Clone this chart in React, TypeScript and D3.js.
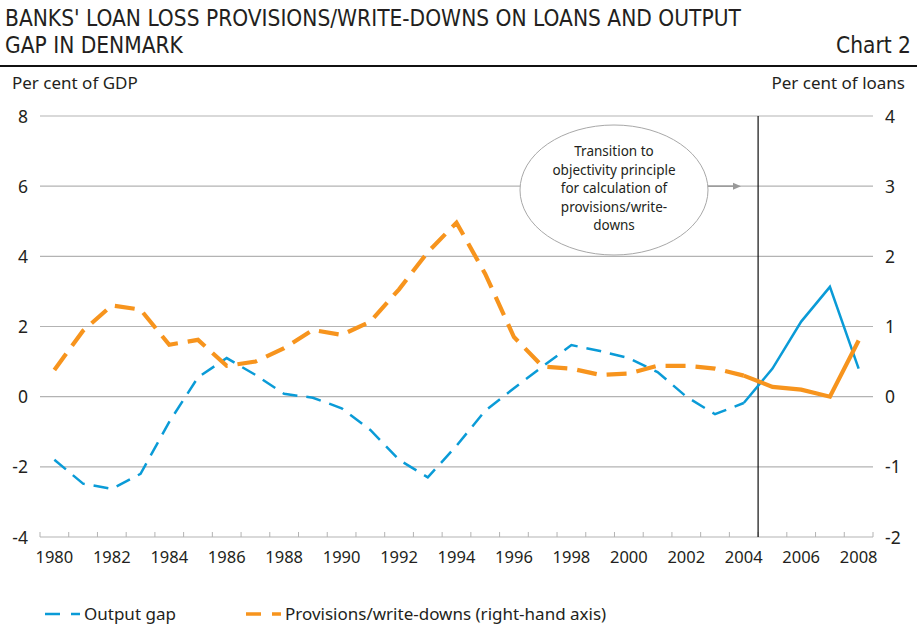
import { useEffect, useRef } from "react";
import * as d3 from "d3";

const years = d3.range(1980, 2009);
// left axis, per cent of GDP
const outputGap = [
  -1.8, -2.48, -2.63, -2.2, -0.72, 0.55, 1.1, 0.62, 0.08, -0.03, -0.33, -0.95, -1.8, -2.3,
  -1.4, -0.4, 0.24, 0.86, 1.47, 1.3, 1.1, 0.7, 0.0, -0.5, -0.18, 0.8, 2.14, 3.13, 0.8,
];
// right axis, per cent of loans
const provisions = [
  0.38, 0.94, 1.3, 1.24, 0.74, 0.81, 0.44, 0.5, 0.69, 0.95, 0.88, 1.07, 1.53, 2.06, 2.48,
  1.75, 0.85, 0.43, 0.4, 0.31, 0.33, 0.44, 0.44, 0.4, 0.3, 0.14, 0.1, 0.0, 0.8,
];
const leftTicks = [-4, -2, 0, 2, 4, 6, 8];
const rightTicks = [-2, -1, 0, 1, 2, 3, 4];
const yearLabels = years.filter((y) => y % 2 === 0);
const solidFrom = 2004; // solid lines from here on
const breakYear = 2004.5; // objectivity principle
const noteLines = ["Transition to", "objectivity principle", "for calculation of", "provisions/write-", "downs"];

const BLUE = "#0a9bd7";
const ORANGE = "#f7941d";
const GRID = "#b3b3b3";
const TXT = "#231f20";
const FONT = "'Noto Sans', 'Open Sans', sans-serif";

const Chart = () => {
  const ref = useRef<SVGSVGElement>(null);

  useEffect(() => {
    document.body.style.margin = "0";
    const svg = d3.select(ref.current);
    svg.selectAll("*").remove();

    const x = d3.scaleLinear().domain([1979.5, 2008.5]).range([40, 873]);
    const yL = d3.scaleLinear().domain([-4, 8]).range([537, 116]);
    const yR = d3.scaleLinear().domain([-2, 4]).range([537, 116]);

    // title
    const t = svg.append("g").style("font-family", "'Liberation Sans Narrow', 'DejaVu Sans Condensed', sans-serif").attr("fill", TXT);
    t.append("text").attr("x", 5).attr("y", 26).style("font-size", "22.5px").text("BANKS' LOAN LOSS PROVISIONS/WRITE-DOWNS ON LOANS AND OUTPUT");
    t.append("text").attr("x", 5).attr("y", 53).style("font-size", "22.5px").text("GAP IN DENMARK");
    t.append("text").attr("x", 911).attr("y", 53).attr("text-anchor", "end").style("font-size", "22.5px").text("Chart 2");
    svg.append("line").attr("x1", 0).attr("x2", 917).attr("y1", 66).attr("y2", 66).attr("stroke", "#111").attr("stroke-width", 2);

    const g = svg.append("g").style("font-family", FONT).attr("fill", TXT);
    g.append("text").attr("x", 12).attr("y", 89).style("font-size", "17px").text("Per cent of GDP");
    g.append("text").attr("x", 905).attr("y", 89).attr("text-anchor", "end").style("font-size", "17px").text("Per cent of loans");

    // grid
    g.selectAll(".grid")
      .data(leftTicks.filter((d) => d > -4))
      .enter()
      .append("line")
      .attr("x1", x.range()[0])
      .attr("x2", x.range()[1])
      .attr("y1", (d) => yL(d))
      .attr("y2", (d) => yL(d))
      .attr("stroke", GRID)
      .attr("stroke-width", 1.2);

    // y labels
    g.selectAll(".ly")
      .data(leftTicks)
      .enter()
      .append("text")
      .attr("x", 28)
      .attr("y", (d) => yL(d) + 6.5)
      .attr("text-anchor", "end")
      .style("font-size", "17.5px")
      .text((d) => String(d));
    g.selectAll(".ry")
      .data(rightTicks)
      .enter()
      .append("text")
      .attr("x", 885)
      .attr("y", (d) => yR(d) + 6.5)
      .style("font-size", "17.5px")
      .text((d) => String(d));

    // x axis
    const axisY = yL(-4);
    g.append("line").attr("x1", x.range()[0]).attr("x2", x.range()[1]).attr("y1", axisY).attr("y2", axisY).attr("stroke", GRID).attr("stroke-width", 1.2);
    g.selectAll(".tick")
      .data(years.concat([2009]))
      .enter()
      .append("line")
      .attr("x1", (d) => x(d - 0.5))
      .attr("x2", (d) => x(d - 0.5))
      .attr("y1", axisY)
      .attr("y2", axisY - 5)
      .attr("stroke", GRID)
      .attr("stroke-width", 1);
    g.selectAll(".xl")
      .data(yearLabels)
      .enter()
      .append("text")
      .attr("x", (d) => x(d))
      .attr("y", axisY + 26)
      .attr("text-anchor", "middle")
      .style("font-size", "16.5px")
      .text((d) => String(d));

    // annotation
    g.append("ellipse").attr("cx", 614).attr("cy", 190).attr("rx", 94).attr("ry", 65).attr("fill", "#fff").attr("stroke", "#a8a8a8").attr("stroke-width", 1);
    g.selectAll(".note")
      .data(noteLines)
      .enter()
      .append("text")
      .attr("x", 614)
      .attr("y", (d, i) => 156 + i * 18.5)
      .attr("text-anchor", "middle")
      .style("font-size", "13.5px")
      .text((d) => d);
    const ay = yL(6);
    g.append("line").attr("x1", 708).attr("x2", 735).attr("y1", ay).attr("y2", ay).attr("stroke", "#999").attr("stroke-width", 1.5);
    g.append("path").attr("d", `M733,${ay - 3.5}L741,${ay}L733,${ay + 3.5}Z`).attr("fill", "#999");

    // break line
    g.append("line").attr("x1", x(breakYear)).attr("x2", x(breakYear)).attr("y1", yL(8)).attr("y2", axisY).attr("stroke", "#111").attr("stroke-width", 1.2);

    // series
    const drawSeries = (vals: number[], y: d3.ScaleLinear<number, number>, color: string, width: number, dash: string) => {
      const pts = years.map((yr, i) => ({ yr, v: vals[i] }));
      const line = d3.line<{ yr: number; v: number }>().x((d) => x(d.yr)).y((d) => y(d.v));
      g.append("path")
        .datum(pts.filter((d) => d.yr <= solidFrom))
        .attr("d", line)
        .attr("fill", "none")
        .attr("stroke", color)
        .attr("stroke-width", width)
        .attr("stroke-dasharray", dash);
      g.append("path")
        .datum(pts.filter((d) => d.yr >= solidFrom))
        .attr("d", line)
        .attr("fill", "none")
        .attr("stroke", color)
        .attr("stroke-width", width);
    };
    drawSeries(outputGap, yL, BLUE, 2.5, "15,9");
    drawSeries(provisions, yR, ORANGE, 4.2, "20,10");

    // legend
    const legend = [
      { label: "Output gap", color: BLUE, x: 45, w: 2.5 },
      { label: "Provisions/write-downs (right-hand axis)", color: ORANGE, x: 246, w: 3.5 },
    ];
    const lg = g.selectAll(".lg").data(legend).enter().append("g");
    lg.append("line")
      .attr("x1", (d) => d.x)
      .attr("x2", (d) => d.x + 35)
      .attr("y1", 614)
      .attr("y2", 614)
      .attr("stroke", (d) => d.color)
      .attr("stroke-width", (d) => d.w)
      .attr("stroke-dasharray", "15,11");
    lg.append("text")
      .attr("x", (d) => d.x + 39)
      .attr("y", 620)
      .style("font-size", "17px")
      .text((d) => d.label);
  }, []);

  return <svg ref={ref} width={917} height={626} style={{ display: "block", background: "#fff" }} />;
};

export default function App() {
  return <Chart />;
}
